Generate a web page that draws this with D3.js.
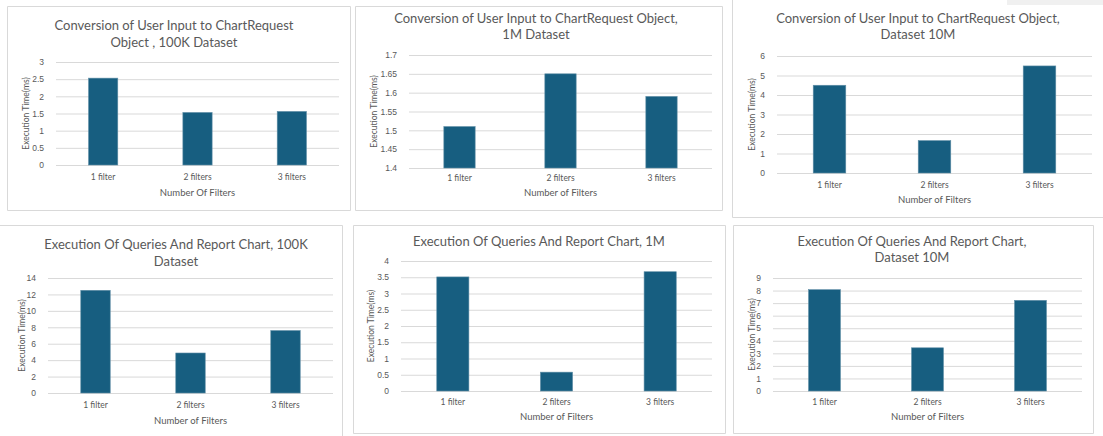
<!DOCTYPE html>
<html>
<head>
<meta charset="utf-8">
<script src="https://cdn.jsdelivr.net/npm/d3@7"></script>
<style>
  body { margin: 0; background: #fff; }
  svg { display: block; font-family: Lato, "Open Sans", sans-serif; }
</style>
</head>
<body>
<div id="chart"></div>
<script>
// data
var categories = ["1 filter", "2 filters", "3 filters"];

var conv100k = [2.53, 1.53, 1.56];
var conv1m = [1.51, 1.65, 1.59];
var conv10m = [4.5, 1.66, 5.49];
var query100k = [12.5, 4.87, 7.6];
var query1m = [3.51, 0.58, 3.67];
var query10m = [8.07, 3.44, 7.22];

var ticks100kConv = [0, 0.5, 1, 1.5, 2, 2.5, 3];
var ticks1mConv = [1.4, 1.45, 1.5, 1.55, 1.6, 1.65, 1.7];
var ticks10mConv = [0, 1, 2, 3, 4, 5, 6];
var ticks100kQuery = [0, 2, 4, 6, 8, 10, 12, 14];
var ticks1mQuery = [0, 0.5, 1, 1.5, 2, 2.5, 3, 3.5, 4];
var ticks10mQuery = [0, 1, 2, 3, 4, 5, 6, 7, 8, 9];

var width = 1103;
var height = 436;
var barColor = "#175e80";

// layout of each panel (boxes, plot area, text rows)
var panels = [
  { values: conv100k, ticks: ticks100kConv,
    title: ["Conversion of User Input to ChartRequest", "Object , 100K Dataset"],
    xTitle: "Number Of Filters",
    box: [7, 6, 350, 210], sides: "tlrb",
    plot: [56, 339, 62, 165], titleX: 174, titleY: [30, 47], catY: 180, xTitleY: 196, yTitleX: 29 },
  { values: conv1m, ticks: ticks1mConv,
    title: ["Conversion of User Input to ChartRequest Object,", "1M Dataset"],
    xTitle: "Number of Filters",
    box: [355, 6, 722, 210], sides: "tlrb",
    plot: [409, 712, 55, 168], titleX: 536, titleY: [23, 39], catY: 181, xTitleY: 196, yTitleX: 377 },
  { values: conv10m, ticks: ticks10mConv,
    title: ["Conversion of User Input to ChartRequest Object,", "Dataset 10M"],
    xTitle: "Number of Filters",
    box: [732, -2, 1105, 217], sides: "lb",
    plot: [777, 1092, 56, 173], titleX: 918, titleY: [23, 39], catY: 188, xTitleY: 203, yTitleX: 755 },
  { values: query100k, ticks: ticks100kQuery,
    title: ["Execution Of Queries And Report Chart, 100K", "Dataset"],
    xTitle: "Number of Filters",
    box: [-2, 225, 342, 440], sides: "tr",
    plot: [48, 333, 278, 393], titleX: 176, titleY: [249, 266], catY: 408, xTitleY: 424, yTitleX: 25 },
  { values: query1m, ticks: ticks1mQuery,
    title: ["Execution Of Queries And Report Chart, 1M"],
    xTitle: "Number of Filters",
    box: [353, 225, 725, 433], sides: "tlrb",
    plot: [401, 712, 261, 391], titleX: 539, titleY: [246], catY: 405, xTitleY: 420, yTitleX: 374 },
  { values: query10m, ticks: ticks10mQuery,
    title: ["Execution Of Queries And Report Chart,", "Dataset 10M"],
    xTitle: "Number of Filters",
    box: [733, 225, 1093, 433], sides: "tlrb",
    plot: [773, 1082, 278, 391], titleX: 912, titleY: [246, 262], catY: 405, xTitleY: 420, yTitleX: 755 }
];

var svg = d3.select("#chart")
  .append("svg")
  .attr("width", width)
  .attr("height", height);

// small gray strip in the top right corner of the screenshot
svg.append("rect")
  .attr("x", 1007).attr("y", 0)
  .attr("width", 96).attr("height", 5)
  .attr("fill", "#f0f0f0");

panels.forEach(function(p) {
  var g = svg.append("g");
  var b = p.box;

  // panel border, only the visible sides
  var edges = {
    t: [b[0], b[1], b[2], b[1]],
    b: [b[0], b[3], b[2], b[3]],
    l: [b[0], b[1], b[0], b[3]],
    r: [b[2], b[1], b[2], b[3]]
  };
  p.sides.split("").forEach(function(s) {
    var e = edges[s];
    g.append("line")
      .attr("x1", e[0] + 0.5).attr("y1", e[1] + 0.5)
      .attr("x2", e[2] + 0.5).attr("y2", e[3] + 0.5)
      .attr("stroke", "#d9d9d9")
      .attr("stroke-width", 1);
  });

  var x = d3.scaleBand()
    .domain(categories)
    .range([p.plot[0], p.plot[1]])
    .paddingInner(0.69)
    .paddingOuter(0.345);

  var y = d3.scaleLinear()
    .domain([p.ticks[0], p.ticks[p.ticks.length - 1]])
    .range([p.plot[3], p.plot[2]]);

  // gridlines
  var yAxis = d3.axisLeft(y)
    .tickValues(p.ticks)
    .tickSize(-(p.plot[1] - p.plot[0]))
    .tickPadding(12)
    .tickFormat(d3.format(""));

  var ay = g.append("g")
    .attr("transform", "translate(" + p.plot[0] + ",0)")
    .call(yAxis);
  ay.select(".domain").remove();
  ay.selectAll(".tick line")
    .attr("stroke", "#d9d9d9");
  ay.selectAll(".tick text")
    .attr("fill", "#595959")
    .style("font-size", "8.5px");

  // bars
  g.selectAll("rect.bar")
    .data(p.values)
    .enter()
    .append("rect")
    .attr("class", "bar")
    .attr("x", function(d, i) { return x(categories[i]); })
    .attr("width", x.bandwidth())
    .attr("y", function(d) { return y(d); })
    .attr("height", function(d) { return y(p.ticks[0]) - y(d); })
    .attr("fill", barColor)
    .attr("stroke", "#5f8ea6")
    .attr("stroke-width", 0.6);

  // category labels
  g.selectAll("text.cat")
    .data(categories)
    .enter()
    .append("text")
    .attr("class", "cat")
    .attr("x", function(d) { return x(d) + x.bandwidth() / 2; })
    .attr("y", p.catY)
    .attr("text-anchor", "middle")
    .attr("fill", "#595959")
    .style("font-size", "8.5px")
    .text(function(d) { return d; });

  // title
  p.title.forEach(function(line, i) {
    g.append("text")
      .attr("x", p.titleX)
      .attr("y", p.titleY[i])
      .attr("text-anchor", "middle")
      .attr("fill", "#595959")
      .style("font-size", "13px")
      .text(line);
  });

  // axis titles
  g.append("text")
    .attr("x", (p.plot[0] + p.plot[1]) / 2)
    .attr("y", p.xTitleY)
    .attr("text-anchor", "middle")
    .attr("fill", "#595959")
    .style("font-size", "9.5px")
    .text(p.xTitle);

  g.append("text")
    .attr("transform", "translate(" + p.yTitleX + "," + ((p.plot[2] + p.plot[3]) / 2) + ") rotate(-90)")
    .attr("text-anchor", "middle")
    .attr("fill", "#595959")
    .style("font-size", "8.5px")
    .text("Execution Time(ms)");
});
</script>
</body>
</html>
